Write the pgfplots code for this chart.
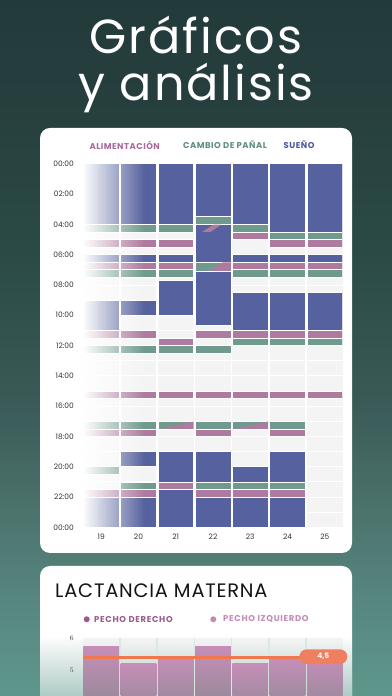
\documentclass[border=0pt]{standalone}
\usepackage{pgfplots}
\pgfplotsset{compat=1.18}
\usepackage{fontspec}
\setmainfont{Poppins}
\newfontfamily\titlefont[LetterSpace=4]{Poppins}
\newfontfamily\legfont[LetterSpace=6]{Poppins}
\newfontfamily\headfont[LetterSpace=4]{Poppins}
\newfontfamily\pechofont[LetterSpace=8]{Poppins}

\definecolor{sleep}{HTML}{56629F}
\definecolor{feed}{HTML}{AE7A9F}
\definecolor{diaper}{HTML}{6F9A8D}
\definecolor{gridbg}{HTML}{F4F4F4}
\definecolor{gridbot}{HTML}{83B1A7}
\definecolor{ticktxt}{HTML}{333333}
\definecolor{feedtxt}{HTML}{A8699B}
\definecolor{diapertxt}{HTML}{5E8F80}
\definecolor{sleeptxt}{HTML}{4B58A0}
\definecolor{pechoD}{HTML}{9C5B8C}
\definecolor{pechoI}{HTML}{C58BB6}
\definecolor{pillcol}{HTML}{F07F5F}
\definecolor{avgcol}{HTML}{F07850}
\definecolor{barTop}{HTML}{C68EB8}
\definecolor{barBot}{HTML}{7C8789}
\definecolor{bg0}{HTML}{5F978C}
\definecolor{bg1}{HTML}{578780}
\definecolor{bg2}{HTML}{4A706A}
\definecolor{bg3}{HTML}{3A5A57}
\definecolor{bg4}{HTML}{2B4A45}
\definecolor{bg5}{HTML}{263F3E}
\definecolor{bg6}{HTML}{233A3A}

\pgfdeclareverticalshading{bgshade}{100bp}{color(0bp)=(bg0); color(25bp)=(bg0); color(31.9bp)=(bg1); color(39.08bp)=(bg2); color(46.26bp)=(bg3); color(57.04bp)=(bg4); color(67.82bp)=(bg5); color(75bp)=(bg6); color(100bp)=(bg6)}

% event block: column index, start hour, end hour, colour
\newcommand\ev[4]{\addplot[fill=#4, draw=white, line width=0.5bp] coordinates {(#1.02,#2) (#1.98,#2) (#1.98,#3) (#1.02,#3)} -- cycle;}
% bar: column index, value
\newcommand\lbar[2]{\addplot[draw=none, top color=barTop, bottom color=barBot] coordinates {(#1.02,3) (#1.98,3) (#1.98,#2) (#1.02,#2)} -- cycle;}

\begin{document}
\begin{tikzpicture}
\useasboundingbox (0,0) rectangle (392bp,696bp);
\shade[shading=bgshade] (0,0) rectangle (392bp,696bp);

% title
\node[anchor=base, text=white, inner sep=0, font=\titlefont\fontsize{48}{56}\selectfont] at (196bp,642.7bp) {Gráficos};
\node[anchor=base, text=white, inner sep=0, font=\titlefont\fontsize{48}{56}\selectfont] at (196bp,595.3bp) {y análisis};

% cards
\fill[white, rounded corners=10bp] (40bp,143bp) rectangle (352bp,568bp);
\fill[white, rounded corners=10bp] (40bp,-30bp) rectangle (352bp,130bp);

% legend card 1
\node[font=\legfont\fontsize{8.5}{10}\selectfont\bfseries, text=feedtxt] at (124.7bp,551bp) {ALIMENTACIÓN};
\node[font=\legfont\fontsize{8.5}{10}\selectfont\bfseries, text=diapertxt] at (225bp,551bp) {CAMBIO DE PAÑAL};
\node[font=\legfont\fontsize{8.5}{10}\selectfont\bfseries, text=sleeptxt] at (299bp,551bp) {SUEÑO};

\begin{axis}[
  at={(83.3bp,168.7bp)}, anchor=south west,
  scale only axis, width=259.4bp, height=363.6bp,
  xmin=0.02, xmax=6.98, ymin=0, ymax=24, y dir=reverse,
  axis background/.style={fill=gridbg},
  axis line style={draw=none},
  major tick length=0pt, minor tick length=0pt,
  xtick={0.5,1.5,2.5,3.5,4.5,5.5,6.5},
  xticklabels={19,20,21,22,23,24,25},
  ytick={0,2,...,24},
  yticklabels={00:00,02:00,04:00,06:00,08:00,10:00,12:00,14:00,16:00,18:00,20:00,22:00,00:00},
  minor ytick={1,3,...,23},
  ymajorgrids, yminorgrids,
  major grid style={white, line width=0.8bp},
  minor grid style={white, line width=0.8bp},
  extra x ticks={1,2,3,4,5,6}, extra x tick labels={},
  extra x tick style={grid=major, major grid style={white, line width=1.6bp}},
  tick label style={font=\fontsize{7.5}{9}\selectfont, text=ticktxt},
  yticklabel style={anchor=east, inner sep=0pt, xshift=-9.3bp},
  xticklabel style={anchor=north, inner sep=0pt, yshift=-6.5bp},
]
% day 19
\ev{0}{0}{4}{sleep}
\ev{0}{4}{4.5}{diaper}
\ev{0}{5}{5.5}{feed}
\ev{0}{6}{6.5}{sleep}
\ev{0}{6.5}{7}{feed}
\ev{0}{7}{7.5}{diaper}
\ev{0}{9}{11}{sleep}
\ev{0}{11}{11.5}{feed}
\ev{0}{12}{12.5}{diaper}
\ev{0}{15}{15.5}{feed}
\ev{0}{17}{17.5}{diaper}
\ev{0}{17.5}{18}{feed}
\ev{0}{20}{20.5}{diaper}
\ev{0}{21.5}{22}{feed}
\ev{0}{22}{24}{sleep}
% day 20
\ev{1}{0}{4}{sleep}
\ev{1}{4}{4.5}{diaper}
\ev{1}{5}{5.5}{feed}
\ev{1}{6}{6.5}{sleep}
\ev{1}{6.5}{7}{feed}
\ev{1}{7}{7.5}{diaper}
\ev{1}{9}{10}{sleep}
\ev{1}{11}{11.5}{feed}
\ev{1}{12}{12.5}{diaper}
\ev{1}{15}{15.5}{feed}
\ev{1}{17}{17.5}{diaper}
\ev{1}{17.5}{18}{feed}
\ev{1}{19}{20}{sleep}
\ev{1}{21}{21.5}{diaper}
\ev{1}{21.5}{22}{feed}
\ev{1}{22}{24}{sleep}
% day 21
\ev{2}{0}{4}{sleep}
\ev{2}{4}{4.5}{diaper}
\ev{2}{5}{5.5}{feed}
\ev{2}{6}{6.5}{sleep}
\ev{2}{6.5}{7}{feed}
\ev{2}{7}{7.5}{diaper}
\ev{2}{7.7}{10}{sleep}
\ev{2}{11.5}{12}{feed}
\ev{2}{12}{12.5}{diaper}
\ev{2}{15}{15.5}{feed}
\ev{2}{17}{17.5}{diaper}
\addplot[fill=feed, draw=none] coordinates {(2.12,17.5) (2.98,17.02) (2.98,17.5)} -- cycle;
\ev{2}{19}{21}{sleep}
\ev{2}{21}{21.5}{feed}
\ev{2}{21.5}{24}{sleep}
% day 22
\ev{3}{0}{3.5}{sleep}
\ev{3}{3.5}{4}{diaper}
\ev{3}{4}{6.5}{sleep}
\addplot[fill=feed, draw=none] coordinates {(3.52,4.02) (3.72,4.02) (3.44,4.5) (3.21,4.5)} -- cycle;
\ev{3}{6.5}{7.1}{diaper}
\addplot[fill=feed, draw=none] coordinates {(3.40,7.08) (3.98,7.08) (3.98,6.52) (3.75,6.52)} -- cycle;
\ev{3}{7.1}{10.65}{sleep}
\ev{3}{11}{11.5}{feed}
\ev{3}{12}{12.5}{diaper}
\ev{3}{15}{15.5}{feed}
\ev{3}{17}{17.5}{diaper}
\ev{3}{17.5}{18}{feed}
\ev{3}{19}{21}{sleep}
\ev{3}{21}{21.5}{diaper}
\ev{3}{21.5}{22}{feed}
\ev{3}{22}{24}{sleep}
% day 23
\ev{4}{0}{4}{sleep}
\ev{4}{4}{4.5}{diaper}
\ev{4}{4.5}{5}{feed}
\ev{4}{6}{6.5}{sleep}
\ev{4}{6.5}{7}{feed}
\ev{4}{7}{7.5}{diaper}
\ev{4}{8.5}{11}{sleep}
\ev{4}{11}{11.5}{feed}
\ev{4}{11.5}{12}{diaper}
\ev{4}{15}{15.5}{feed}
\ev{4}{17}{17.5}{diaper}
\addplot[fill=feed, draw=none] coordinates {(4.12,17.5) (4.98,17.02) (4.98,17.5)} -- cycle;
\ev{4}{20}{21}{sleep}
\ev{4}{21}{21.5}{diaper}
\ev{4}{21.5}{22}{feed}
\ev{4}{22}{24}{sleep}
% day 24
\ev{5}{0}{4.5}{sleep}
\ev{5}{4.5}{5}{diaper}
\ev{5}{5}{5.5}{feed}
\ev{5}{6}{6.5}{sleep}
\ev{5}{6.5}{7}{feed}
\ev{5}{7}{7.5}{diaper}
\ev{5}{8.5}{11}{sleep}
\ev{5}{11}{11.5}{feed}
\ev{5}{11.5}{12}{diaper}
\ev{5}{15}{15.5}{feed}
\ev{5}{17}{17.5}{diaper}
\ev{5}{17.5}{18}{feed}
\ev{5}{19}{21}{sleep}
\ev{5}{21}{21.5}{diaper}
\ev{5}{21.5}{22}{feed}
\ev{5}{22}{24}{sleep}
% day 25
\ev{6}{0}{4.5}{sleep}
\ev{6}{4.5}{5}{diaper}
\ev{6}{5}{5.5}{feed}
\ev{6}{6}{6.5}{sleep}
\ev{6}{6.5}{7}{feed}
\ev{6}{7}{7.5}{diaper}
\ev{6}{8.5}{11}{sleep}
\ev{6}{11}{11.5}{feed}
\ev{6}{11.5}{12}{diaper}
\ev{6}{15}{15.5}{feed}
\end{axis}

% fade on the first days
\foreach \i in {0,...,30} {
  \pgfmathsetmacro\op{1-(\i+0.5)/31}
  \fill[white, opacity=\op] ({(83.3+2*\i)*1bp},168.7bp) rectangle ({(85.3+2*\i)*1bp},532.3bp);
}

% card 2
\node[anchor=base west, inner sep=0, text=black!92, font=\headfont\fontsize{19.5}{22}\selectfont] at (55bp,98.3bp) {LACTANCIA MATERNA};
\fill[pechoD] (86.7bp,76.7bp) circle (3bp);
\node[anchor=west, inner sep=0, text=pechoD, font=\pechofont\fontsize{8.5}{10}\selectfont\bfseries] at (94bp,76.7bp) {PECHO DERECHO};
\fill[pechoI] (213.3bp,76.7bp) circle (3bp);
\node[anchor=west, inner sep=0, text=pechoI, font=\pechofont\fontsize{8.5}{10}\selectfont\bfseries] at (223bp,76.7bp) {PECHO IZQUIERDO};

% greenish fade at the bottom of the card (behind the chart)
\foreach \i in {0,...,29} {
  \pgfmathsetmacro\op{0.5*(\i+0.5)/30}
  \fill[bg0, opacity=\op] (40bp,{(58-2*\i)*1bp}) rectangle (352bp,{(60-2*\i)*1bp});
}

\begin{axis}[
  at={(83.3bp,-37bp)}, anchor=south west,
  scale only axis, width=259.4bp, height=94.8bp,
  xmin=0.02, xmax=6.98, ymin=3, ymax=6,
  axis line style={draw=none},
  major tick length=0pt,
  axis background/.style={top color=gridbg, bottom color=gridbot},
  xtick=\empty,
  ytick={5,6},
  extra x ticks={1,2,3,4,5,6}, extra x tick labels={},
  extra x tick style={grid=major, major grid style={white!70!gridbot, line width=1.6bp}},
  tick label style={font=\fontsize{7.5}{9}\selectfont, text=ticktxt},
  yticklabel style={anchor=east, inner sep=0pt, xshift=-9.3bp},
]
\lbar{0}{5.75}
\lbar{1}{5.19}
\lbar{2}{5.37}
\lbar{3}{5.75}
\lbar{4}{5.19}
\lbar{5}{5.37}
\lbar{6}{5.37}
\addplot[color=avgcol, solid, line width=2.2bp, mark=none] coordinates {(0.02,5.39) (6.98,5.39)};
\end{axis}

\node[fill=pillcol, rounded corners=7.3bp, minimum width=48bp, minimum height=14.7bp, inner sep=0, text=white, font=\fontsize{7.5}{8}\selectfont\bfseries] at (323.3bp,39.3bp) {4,5};
\end{tikzpicture}
\end{document}
